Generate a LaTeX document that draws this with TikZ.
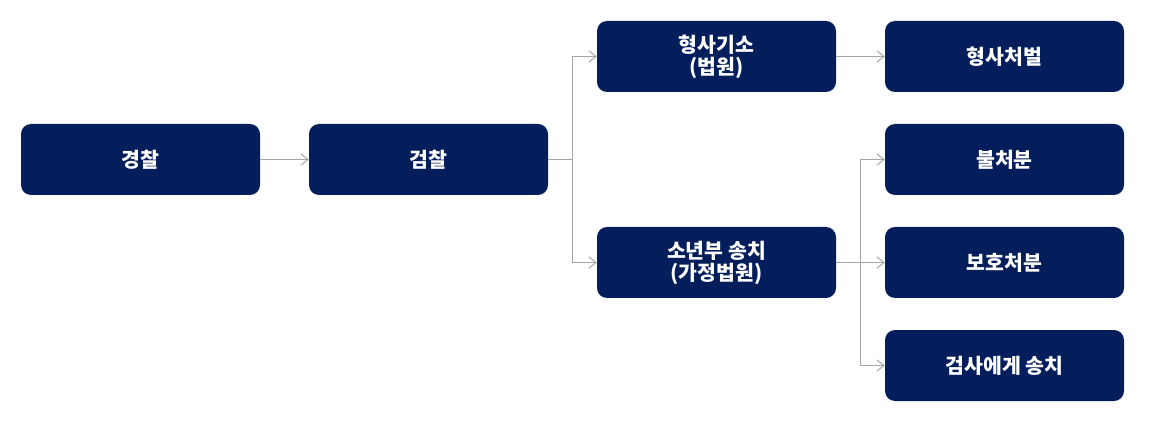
\documentclass[tikz,border=0pt]{standalone}
\usepackage{fontspec}
\newfontfamily\kr{Noto Sans CJK KR}
\usetikzlibrary{arrows.meta}
\definecolor{navy}{RGB}{4,30,92}
\definecolor{lgray}{RGB}{166,166,166}
\begin{document}
\begin{tikzpicture}[x=1pt,y=-1pt,
  box/.style={fill=navy, draw=none, rounded corners=10pt, minimum width=239pt, minimum height=71pt,
    text=white, font=\kr\bfseries\fontsize{20.5}{22}\selectfont, align=center, inner sep=0pt},
  line/.style={draw=lgray, line width=1pt},
  conn/.style={line, -{Straight Barb[length=7pt,width=11pt]}}]
\useasboundingbox (0,0) rectangle (1150,427);
\node[box] (police) at (140.5,159.5) {경찰};
\node[box] (pros) at (428.5,159.5) {검찰};
\node[box] (court) at (716.5,56.5) {형사기소\\(법원)};
\node[box] (juv) at (716.5,262.5) {소년부 송치\\(가정법원)};
\node[box] (punish) at (1004.5,56.5) {형사처벌};
\node[box] (none) at (1004.5,159.5) {불처분};
\node[box] (protect) at (1004.5,262.5) {보호처분};
\node[box] (back) at (1004.5,365.5) {검사에게 송치};
\draw[conn] (police) -- (pros);
\draw[line] (pros.east) -- ++(24,0) coordinate (j1);
\draw[conn] (j1) |- (court.west);
\draw[conn] (j1) |- (juv.west);
\draw[conn] (court) -- (punish);
\draw[line] (juv.east) -- ++(24,0) coordinate (j2);
\draw[conn] (j2) |- (none.west);
\draw[conn] (j2) -- (protect.west);
\draw[conn] (j2) |- (back.west);
\end{tikzpicture}
\end{document}
